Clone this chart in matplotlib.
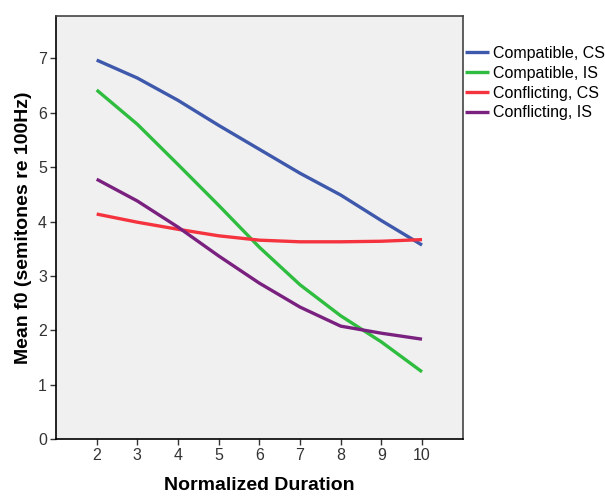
import matplotlib
matplotlib.use("Agg")
import matplotlib.pyplot as plt

durations = [2, 3, 4, 5, 6, 7, 8, 9, 10]
compatible_cs = [6.97, 6.64, 6.23, 5.77, 5.33, 4.89, 4.49, 4.02, 3.57]
compatible_is = [6.42, 5.79, 5.05, 4.30, 3.53, 2.84, 2.27, 1.79, 1.24]
conflicting_cs = [4.14, 3.99, 3.86, 3.74, 3.66, 3.63, 3.63, 3.64, 3.67]
conflicting_is = [4.78, 4.38, 3.90, 3.37, 2.87, 2.43, 2.08, 1.95, 1.84]
series_names = ["Compatible, CS", "Compatible, IS", "Conflicting, CS", "Conflicting, IS"]
colors = ["#3e58ac", "#2fbd3f", "#f5333f", "#7a2180"]

plt.rcParams['font.family'] = ['Liberation Sans', 'DejaVu Sans']

fig = plt.figure(figsize=(6.05, 4.96), dpi=100)
ax = fig.add_axes([56/605, (496-439.3)/496, (462.7-56)/605, (439.3-16)/496])
ax.set_facecolor("#f0f0f0")

for vals, name, c in zip([compatible_cs, compatible_is, conflicting_cs, conflicting_is], series_names, colors):
    ax.plot(durations, vals, color=c, lw=2.4, label=name, solid_capstyle='butt')

ax.set_xlim(1, 11)
ax.set_ylim(0, 7.78)
ax.set_xticks(durations)
ax.set_yticks(range(0, 8))
ax.tick_params(axis='both', direction='out', length=4.5, width=1, colors='#333333',
               labelsize=11.5, labelcolor='#333333', pad=2)
for s in ['left', 'bottom']:
    ax.spines[s].set_color('black')
    ax.spines[s].set_linewidth(1.2)
for s in ['top', 'right']:
    ax.spines[s].set_color('#444444')
    ax.spines[s].set_linewidth(1.2)

ax.set_xlabel("Normalized Duration", fontsize=14, fontweight='bold', labelpad=10)
ax.set_ylabel("Mean f0 (semitones re 100Hz)", fontsize=14, fontweight='bold', labelpad=4)

leg = fig.legend(loc='upper left', bbox_to_anchor=(465/605, (496-46)/496), frameon=False, fontsize=11.5,
                 handlelength=1.5, handletextpad=0.25, labelspacing=0.3, borderaxespad=0, borderpad=0)

fig.savefig("out.png", dpi=100)
